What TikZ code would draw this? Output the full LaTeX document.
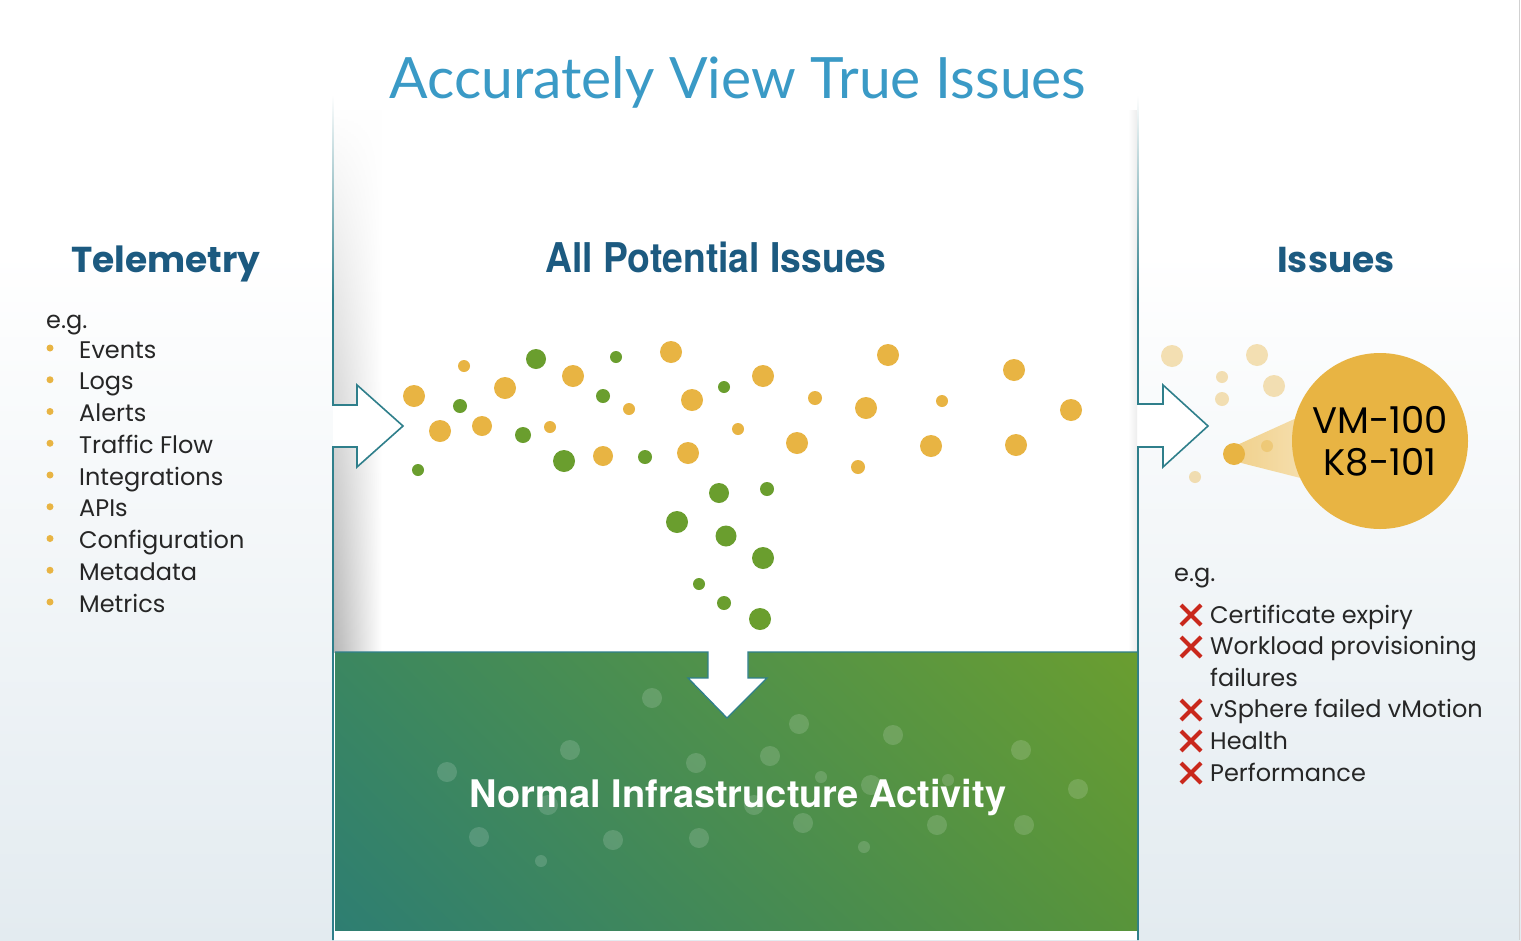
\documentclass[tikz,border=0pt]{standalone}
\usepackage{fontspec}
\setmainfont{Poppins}
\newfontfamily\heros{TeX Gyre Heros}
\newfontfamily\latof{Lato}
\usetikzlibrary{calc,fadings,shadings}
\definecolor{teal1}{HTML}{2F7F8B}
\definecolor{ylw}{HTML}{E8B443}
\definecolor{grn}{HTML}{6A9E2E}
\definecolor{navy}{HTML}{1C5A80}
\definecolor{titleblue}{HTML}{3A9AC6}
\definecolor{bgb}{HTML}{E3EBF0}
\definecolor{xred}{HTML}{C9281C}
\definecolor{gLL}{HTML}{2E7E72}
\definecolor{gUL}{HTML}{3B8760}
\definecolor{gLR}{HTML}{58943A}
\definecolor{gUR}{HTML}{6A9E30}
\tikzfading[name=fadetop, top color=transparent!100, bottom color=transparent!0]
\begin{document}
\begin{tikzpicture}[x=1pt,y=-1pt,
  panelline/.style={teal1, line width=1.6pt, line join=miter},
  item/.style={anchor=base west, inner sep=0pt, font=\fontsize{24}{28}\selectfont, text=black!85},
  head/.style={anchor=base, inner sep=0pt, text=navy, font=\fontsize{36}{40}\selectfont\bfseries},
  xmark/.style={xred, line width=4.2pt},
  ghost/.style={ylw, opacity=0.4}]
\useasboundingbox (0,0) rectangle (1521,940);
% background
\fill[white] (0,0) rectangle (1521,940);
\shade[top color=white, bottom color=bgb] (0,250) rectangle (1521,940);
\draw[black!18, line width=1pt] (1519,0) -- (1519,940);
% centre panel
\fill[white] (333,95) rectangle (1138,940);
\shade[left color=black!28, right color=white, path fading=fadetop] (334,110) rectangle (382,652);
\shade[left color=white, right color=black!7] (1128,110) rectangle (1137,652);
% left arrow
\fill[white] (333,405) -- (357,405) -- (357,385) -- (403,426) -- (357,467) -- (357,447) -- (333,447) -- cycle;
\shade[top color=white, bottom color=teal1] (332.2,95) rectangle (333.8,300);
\draw[panelline] (333,300) -- (333,405) -- (357,405) -- (357,385) -- (403,426) -- (357,467) -- (357,447) -- (333,447) -- (333,940);
% right arrow
\fill[white] (1138,404) -- (1163,404) -- (1163,385) -- (1208,426) -- (1163,467) -- (1163,447) -- (1138,447) -- cycle;
\shade[top color=white, bottom color=teal1] (1137.2,95) rectangle (1138.8,300);
\draw[panelline] (1138,300) -- (1138,404) -- (1163,404) -- (1163,385) -- (1208,426) -- (1163,467) -- (1163,447) -- (1138,447) -- (1138,940);
% green box
\shade[lower left=gLL, upper left=gUL, lower right=gLR, upper right=gUR] (335,652) rectangle (1137,930);
\foreach \x/\y/\r in {652/698/10,799/724/10,893/735/10,570/750/10,696/763/10,770/756/10,1021/750/10,447/772/10,821/777/6,871/785/10,948/780/6,1078/789/10,548/805/10,754/805/10,479/837/10,613/840/10,699/838/10,803/823/10,937/825/10,1024/825/10,541/861/6,864/847/6}
  \fill[white, opacity=0.15] (\x,\y) circle[radius=\r pt];
\fill[white] (708,651) -- (708,678) -- (688,678) -- (727,718) -- (767,678) -- (748,678) -- (748,651) -- cycle;
\draw[teal1, line width=1.3pt] (335,652) -- (708,652) -- (708,678) -- (688,678) -- (727,718) -- (767,678) -- (748,678) -- (748,652) -- (1137,652);
\node[anchor=base, inner sep=0pt, text=white, font=\heros\bfseries\fontsize{38}{40}\selectfont] (normal) at (738,807) {Normal Infrastructure Activity};
% title and headings
\node[anchor=base, inner sep=0pt, text=titleblue, font=\latof\fontsize{57}{60}\selectfont] (title) at (738,98) {Accurately View True Issues};
\node[head] (telemetry) at (166,272) {Telemetry};
\node[anchor=base, inner sep=0pt, text=navy, font=\heros\bfseries\fontsize{41}{44}\selectfont] (allpot) at (716,272) {\scalebox{0.91}[1]{All Potential Issues}};
\node[head] (issues) at (1336,272) {Issues};
% left list
\node[item] (eg1) at (46,328) {e.g.};
\foreach \t [count=\i] in {Events,Logs,Alerts,Traffic Flow,Integrations,APIs,Configuration,Metadata,Metrics}{
  \pgfmathsetmacro{\yy}{358+31.75*(\i-1)}
  \fill[ylw] (50,\yy-10) circle[radius=3.5pt];
  \node[item] (tel\i) at (79,\yy) {\t};
}
% potential issue dots
\foreach \x/\y/\r in {414/396/11,440/431/11,482/426/10,505/388/11,573/376/11,671/352/11,692/400/11,603/456/10,688/453/11,763/376/11,797/443/11,866/408/11,888/355/11,931/446/11,1014/370/11,1016/445/11,1071/410/11,464/366/6,550/427/6,629/409/6,738/429/6,815/398/7,858/467/7,942/401/6}
  \fill[ylw] (\x,\y) circle[radius=\r pt];
\foreach \x/\y/\r in {536/359/10,616/357/6,460/406/7,418/470/6,523/435/8,603/396/7,564/461/11,645/457/7,724/387/6,719/493/10,767/489/7,677/522/11,726/536/10.5,763/558/11,699/584/6,724/603/7,760/619/11}
  \fill[grn] (\x,\y) circle[radius=\r pt];
% issues spotlight
\coordinate (c1) at (1234,454);
\coordinate (c2) at (1380,441);
\shade[left color=ylw!60, right color=ylw!10]
  ($(c1)!11pt!58.3:(c2)$) -- ($(c2)!88pt!-121.7:(c1)$) -- ($(c2)!88pt!121.7:(c1)$) -- ($(c1)!11pt!-58.3:(c2)$) -- cycle;
\foreach \x/\y/\r in {1172/356/11,1257/355/11,1222/377/6,1222/399/7,1274/386/11,1267/446/6,1195/477/6}
  \fill[ghost] (\x,\y) circle[radius=\r pt];
\fill[ylw] (c1) circle[radius=11pt];
\node[circle, fill=ylw, minimum size=176pt, inner sep=0pt, align=center, font=\fontsize{37}{42}\selectfont] (vm) at (c2) {VM-100\\K8-101};
% right list
\node[item] (eg2) at (1174,581) {e.g.};
\foreach \m in {615,647,710,741,773}{
  \draw[xmark] (1181,\m-10) -- (1201,\m+10) (1181,\m+10) -- (1201,\m-10);
}
\node[item] (r1) at (1210,623) {Certificate expiry};
\node[item] (r2) at (1210,654) {Workload provisioning};
\node[item] (r3) at (1210,686) {failures};
\node[item] (r4) at (1210,717) {vSphere failed vMotion};
\node[item] (r5) at (1210,749) {Health};
\node[item] (r6) at (1210,781) {Performance};
\end{tikzpicture}
\end{document}
